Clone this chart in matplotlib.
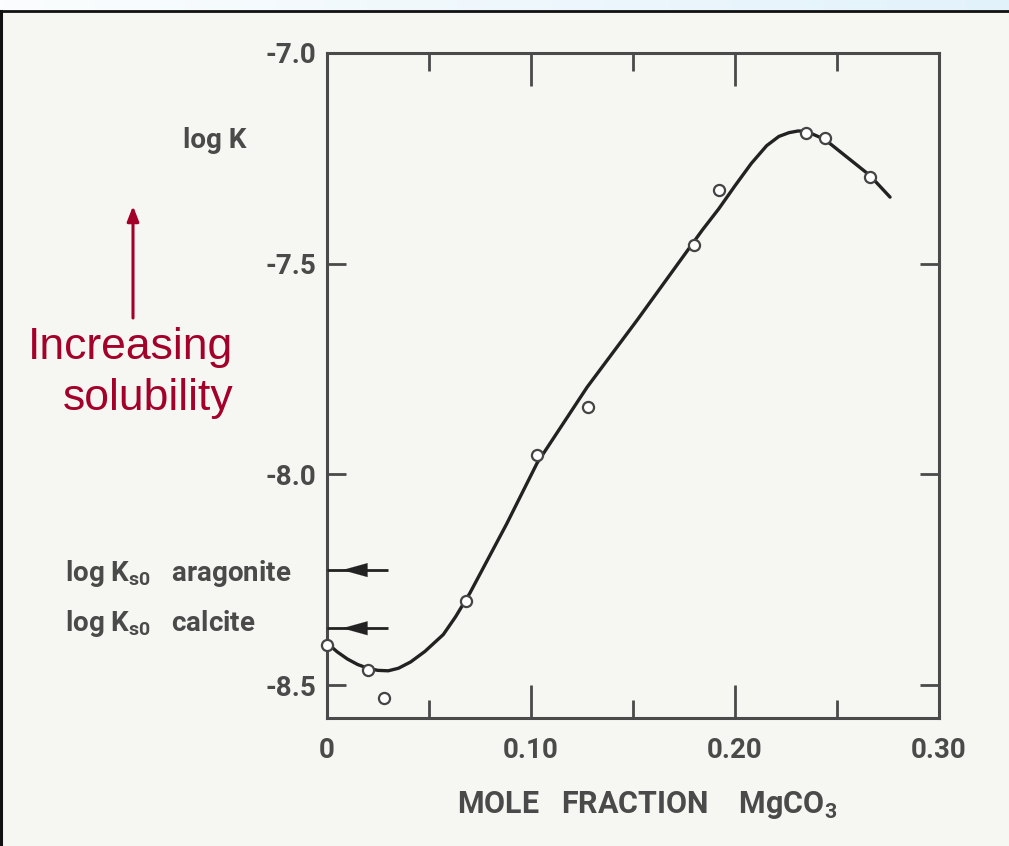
import numpy as np
import matplotlib
matplotlib.use("Agg")
import matplotlib.pyplot as plt
from matplotlib.lines import Line2D
from matplotlib.colors import LinearSegmentedColormap

# ── data ────────────────────────────────────────────────────────────────────
obs_x = [0.000, 0.020, 0.028, 0.068, 0.103, 0.128, 0.180, 0.192, 0.235, 0.244, 0.266]
obs_y = [-8.405, -8.465, -8.530, -8.300, -7.954, -7.840, -7.456, -7.325, -7.190, -7.202, -7.294]

curve_x = [0.000, 0.005, 0.010, 0.015, 0.020, 0.025, 0.030, 0.035, 0.041, 0.048, 0.057,
           0.063, 0.070, 0.088, 0.103, 0.1275, 0.152, 0.184, 0.192, 0.200, 0.208,
           0.2155, 0.2215, 0.2265, 0.231, 0.235, 0.244, 0.266, 0.276]
curve_y = [-8.400, -8.421, -8.438, -8.451, -8.460, -8.465, -8.466, -8.460, -8.445, -8.420, -8.380,
           -8.338, -8.282, -8.118, -7.973, -7.793, -7.634, -7.420, -7.370, -7.315, -7.262,
           -7.220, -7.198, -7.189, -7.185, -7.186, -7.205, -7.290, -7.342]

ks0_aragonite = -8.227
ks0_calcite = -8.365

xticks = [0.0, 0.10, 0.20, 0.30]
xtick_labels = ["0", "0.10", "0.20", "0.30"]
xminor = [0.05, 0.15, 0.25]
yticks = [-7.0, -7.5, -8.0, -8.5]
ytick_labels = ["-7.0", "-7.5", "-8.0", "-8.5"]

# ── style ───────────────────────────────────────────────────────────────────
SCAN = "#4a4a4a"
RED = "#a3002a"
BG = "#f6f6f2"
plt.rcParams["font.family"] = ["Roboto", "DejaVu Sans"]
plt.rcParams["font.weight"] = "bold"
plt.rcParams["mathtext.fontset"] = "custom"
plt.rcParams["mathtext.rm"] = "Roboto:bold"

W, H = 1009, 846
fig = plt.figure(figsize=(W / 100, H / 100), dpi=100, facecolor=BG)

# top strip with soft blue gradient + black frame
strip = fig.add_axes([0, 1 - 11 / H, 1, 11 / H])
grad = np.linspace(0, 1, 256).reshape(1, -1)
bl = LinearSegmentedColormap.from_list("bl", ["#fbfdfe", "#e2f2fb"])
strip.imshow(grad, aspect="auto", cmap=bl, extent=[0, 1, 0, 1])
strip.axis("off")
fig.add_artist(Line2D([0, 1], [1 - 11 / H, 1 - 11 / H], transform=fig.transFigure,
                      color="#111111", lw=2))
fig.add_artist(Line2D([1.2 / W, 1.2 / W], [0, 1 - 11 / H], transform=fig.transFigure,
                      color="#111111", lw=2.2))

# ── main axes ───────────────────────────────────────────────────────────────
ax = fig.add_axes([327 / W, 1 - 718 / H, 612 / W, 665 / H])
ax.set_facecolor(BG)
ax.set_xlim(0, 0.30)
ax.set_ylim(-8.578, -7.0)
for sp in ax.spines.values():
    sp.set_color(SCAN)
    sp.set_linewidth(2.2)

ax.set_xticks(xticks)
ax.set_xticklabels(xtick_labels)
ax.set_xticks(xminor, minor=True)
ax.set_yticks(yticks)
ax.set_yticklabels(ytick_labels)
ax.tick_params(axis="x", which="major", direction="in", length=24, width=2,
               color=SCAN, top=True, labelsize=20, labelcolor=SCAN, pad=14)
ax.tick_params(axis="x", which="minor", direction="in", length=13, width=2,
               color=SCAN, top=True)
ax.tick_params(axis="y", which="major", direction="in", length=14, width=2,
               color=SCAN, right=True, labelsize=20, labelcolor=SCAN, pad=8)

ax.plot(curve_x, curve_y, color="#222222", lw=2.4, solid_capstyle="round",
        solid_joinstyle="round", zorder=3)
ax.plot(obs_x, obs_y, linestyle="none", marker="o", ms=8, mfc="white",
        mec="#444444", mew=1.6, zorder=4, clip_on=False)

# Ks0 arrows
for yv in (ks0_aragonite, ks0_calcite):
    ax.plot([0, 0.030], [yv, yv], color="#222222", lw=2, solid_capstyle="butt", zorder=3)
    ax.annotate("", xy=(0.0075, yv), xytext=(0.019, yv),
                arrowprops=dict(arrowstyle="-|>,head_length=0.9,head_width=0.25",
                                mutation_scale=20, color="#222222", lw=0.1,
                                shrinkA=0, shrinkB=0))

# text labels outside axes
fig.text(215 / W, 1 - 140 / H, "log K", ha="center", va="center",
         fontsize=20, color=SCAN)
fig.text(65 / W, 1 - 573 / H, r"log K$_{\mathrm{s0}}$   aragonite", ha="left",
         va="center", fontsize=20, color=SCAN)
fig.text(65 / W, 1 - 623 / H, r"log K$_{\mathrm{s0}}$   calcite", ha="left",
         va="center", fontsize=20, color=SCAN)
fig.text(647 / W, 1 - 805 / H, r"MOLE   FRACTION    MgCO$_{\mathrm{3}}$", ha="center",
         va="center", fontsize=22, color=SCAN)

# red annotation
fig.text(233 / W, 1 - 373 / H, "Increasing\nsolubility", ha="right", va="center",
         fontsize=32, color=RED, family="Liberation Sans", fontweight="normal",
         linespacing=1.3, multialignment="right")
ax.annotate("", xy=(133, H - 206), xycoords="figure pixels",
            xytext=(133, H - 318), textcoords="figure pixels",
            arrowprops=dict(arrowstyle="-|>,head_length=0.9,head_width=0.35",
                            color=RED, lw=2.2, shrinkA=0, shrinkB=0))

fig.savefig("out.png", dpi=100, facecolor=BG)
